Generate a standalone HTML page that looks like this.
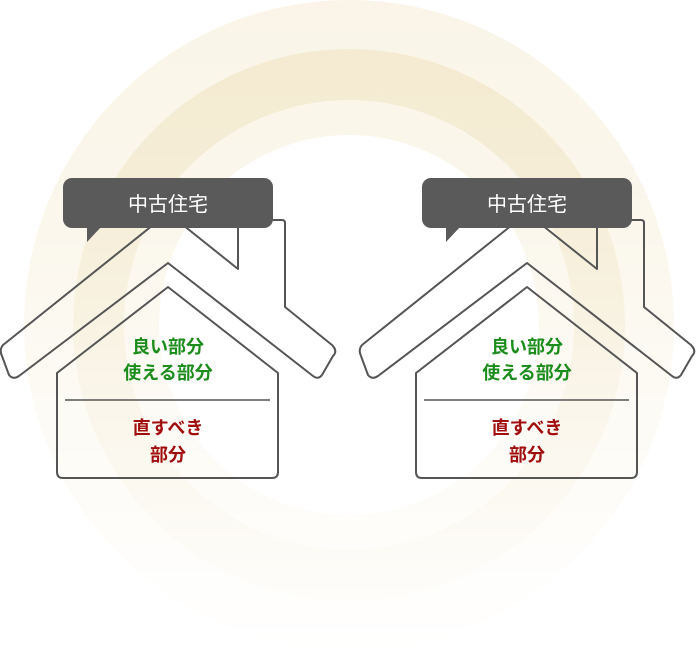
<!DOCTYPE html>
<html><head><meta charset="utf-8"><style>
body{margin:0;background:#fff;width:697px;height:659px;overflow:hidden}
svg{display:block}
text{font-family:"Liberation Sans","Noto Sans CJK JP",sans-serif}
</style></head><body>
<svg width="697" height="659" viewBox="0 0 697 659">
<defs>
<linearGradient id="fade" x1="0" y1="0" x2="0" y2="1">
<stop offset="0" stop-color="#fff" stop-opacity="1"/>
<stop offset="0.3" stop-color="#fff" stop-opacity="0.85"/>
<stop offset="0.6" stop-color="#fff" stop-opacity="0.45"/>
<stop offset="1" stop-color="#fff" stop-opacity="0"/>
</linearGradient>
<mask id="m"><rect width="697" height="659" fill="url(#fade)"/></mask>
<g id="house">
<path d="M3,345 L168,213 L238,269 L238,222 Q238,220 241,220 L282,220 Q285,220 285,223 L285,307 L332,345 Q338,351 333,356 L322,375 Q318,380 313,376 L168,263 L19,376 Q13,380 9,375 L2,356 Q-1,350 3,345 Z" fill="none" stroke="#555" stroke-width="2" stroke-linejoin="round"/>
<path d="M168,287 L278,373 L278,472 Q278,478 272,478 L63,478 Q57,478 57,472 L57,373 Z" fill="none" stroke="#555" stroke-width="2" stroke-linejoin="round"/>
<line x1="65" y1="400" x2="270" y2="400" stroke="#555" stroke-width="1.5"/>
<rect x="63" y="178" width="210" height="50" rx="9" fill="#5a5a5a"/>
<path d="M87,226 L87,242 L102,226 Z" fill="#5a5a5a"/>
<text x="168" y="211" font-size="20" fill="#fff" text-anchor="middle">中古住宅</text>
<g font-size="18" font-weight="bold" text-anchor="middle">
<text x="168" y="353" fill="#1c8c1c">良い部分</text>
<text x="168" y="379" fill="#1c8c1c">使える部分</text>
<text x="168" y="434" fill="#a00e0e">直すべき</text>
<text x="168" y="461" fill="#a00e0e">部分</text>
</g>
</g>
</defs>
<g mask="url(#m)">
<circle cx="349" cy="325" r="325" fill="#faf5e8"/>
<circle cx="349" cy="325" r="276" fill="#f4ead0"/>
<circle cx="349" cy="325" r="225" fill="#faf5e8"/>
<circle cx="349" cy="325" r="190" fill="#fff"/>
</g>
<use href="#house"/>
<use href="#house" x="359"/>
</svg>
</body></html>
